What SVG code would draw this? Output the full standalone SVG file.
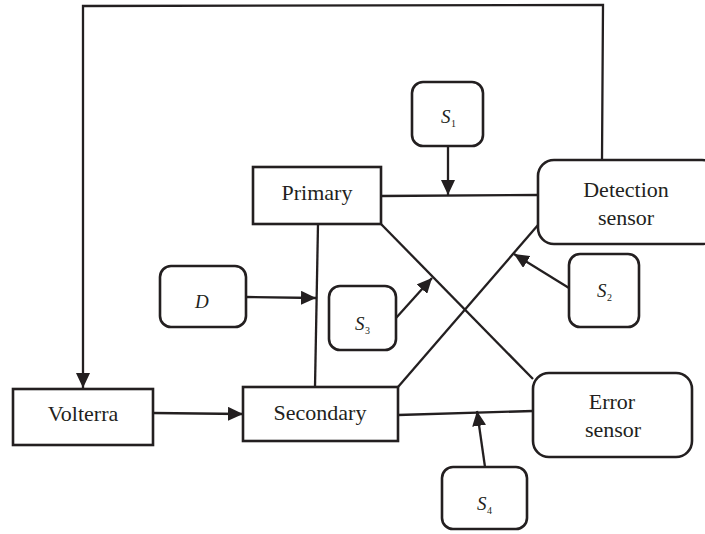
<svg xmlns="http://www.w3.org/2000/svg" width="705" height="534" viewBox="0 0 705 534">
<defs>
<style>
.box{fill:#fff;stroke:#231f20;stroke-width:2.6}
.ln{fill:none;stroke:#231f20;stroke-width:2.3}
.t{font-size:22px;fill:#231f20;text-anchor:middle}
.s{font-size:19px;font-style:italic;fill:#231f20}
.sub{font-size:10px;fill:#231f20}
</style>
<marker id="ah" markerUnits="userSpaceOnUse" markerWidth="16" markerHeight="14" refX="15" refY="7" orient="auto">
<path d="M0,0 L15,7 L0,14 Z" fill="#231f20"/>
</marker>
</defs>
<rect width="705" height="534" fill="#fff"/>
<g id="connectors">
<polyline class="ln" points="602,160 603,5 83,6 83,388" marker-end="url(#ah)"/>
<line class="ln" x1="381" y1="196" x2="538" y2="195"/>
<line class="ln" x1="448" y1="146" x2="448" y2="195" marker-end="url(#ah)"/>
<line class="ln" x1="318" y1="224" x2="315" y2="387"/>
<line class="ln" x1="381" y1="224" x2="533" y2="379"/>
<line class="ln" x1="398" y1="387" x2="538" y2="225"/>
<line class="ln" x1="398" y1="415" x2="533" y2="411"/>
<line class="ln" x1="485" y1="467" x2="477" y2="411" marker-end="url(#ah)"/>
<line class="ln" x1="569" y1="288" x2="514" y2="254" marker-end="url(#ah)"/>
<line class="ln" x1="396" y1="318" x2="432" y2="278" marker-end="url(#ah)"/>
<line class="ln" x1="246" y1="297" x2="316" y2="298" marker-end="url(#ah)"/>
<line class="ln" x1="153" y1="413" x2="243" y2="414" marker-end="url(#ah)"/>
</g>
<g font-family="Liberation Serif, Times New Roman, serif">
<g id="primary">
<rect class="box" x="253" y="167" width="128" height="57"/>
<text class="t" x="317" y="200">Primary</text>
</g>
<g id="secondary">
<rect class="box" x="243" y="387" width="155" height="54"/>
<text class="t" x="320" y="420">Secondary</text>
</g>
<g id="volterra">
<rect class="box" x="13" y="389" width="140" height="56"/>
<text class="t" x="83" y="421">Volterra</text>
</g>
<g id="detection">
<rect class="box" x="538" y="160" width="180" height="84" rx="16"/>
<text class="t" x="626" y="197">Detection</text>
<text class="t" x="626" y="225">sensor</text>
</g>
<g id="error">
<rect class="box" x="533" y="373" width="159" height="84" rx="16"/>
<text class="t" x="612" y="409">Error</text>
<text class="t" x="613" y="437">sensor</text>
</g>
<g id="s1">
<rect class="box" x="412" y="82" width="71" height="64" rx="11"/>
<text class="s" x="441" y="123">S</text><text class="sub" x="451" y="127">1</text>
</g>
<g id="s2">
<rect class="box" x="569" y="254" width="70" height="73" rx="11"/>
<text class="s" x="597" y="297">S</text><text class="sub" x="607" y="301">2</text>
</g>
<g id="s3">
<rect class="box" x="329" y="286" width="67" height="64" rx="11"/>
<text class="s" x="355" y="330">S</text><text class="sub" x="365" y="334">3</text>
</g>
<g id="d">
<rect class="box" x="160" y="266" width="86" height="61" rx="11"/>
<text class="s" x="195" y="308">D</text>
</g>
<g id="s4">
<rect class="box" x="442" y="467" width="85" height="62" rx="11"/>
<text class="s" x="477" y="510">S</text><text class="sub" x="487" y="514">4</text>
</g>
</g>
</svg>
